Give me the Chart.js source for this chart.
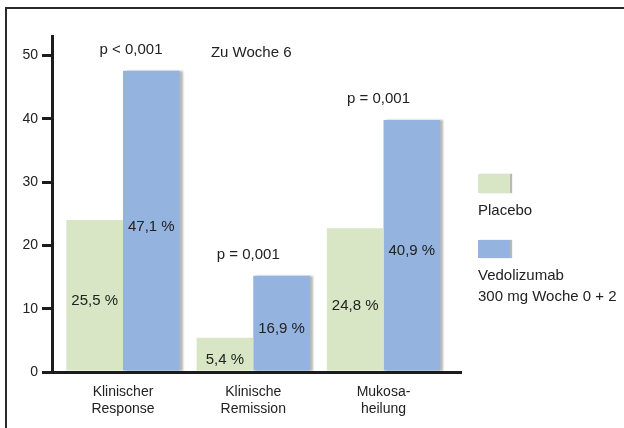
<!DOCTYPE html>
<html><head><meta charset="utf-8">
<script src="https://cdn.jsdelivr.net/npm/chart.js@4/dist/chart.umd.min.js"></script>
<style>html,body{margin:0;padding:0;background:#fff;overflow:hidden}#wrap{width:624px;height:428px}</style>
</head><body><div id="wrap"><canvas id="c" width="624" height="428"></canvas></div>
<script>
const categories = [['Klinischer', 'Response'], ['Klinische', 'Remission'], ['Mukosa-', 'heilung']];
const seriesNames = [['Placebo'], ['Vedolizumab', '300 mg Woche 0 + 2']];
const placebo = [24.0, 5.4, 22.7];
const vedolizumab = [47.6, 15.2, 39.8];
const placeboLabels = ['25,5 %', '5,4 %', '24,8 %'];
const vedolizumabLabels = ['47,1 %', '16,9 %', '40,9 %'];
const pValues = ['p < 0,001', 'p = 0,001', 'p = 0,001'];
const noteText = 'Zu Woche 6';
const yTicks = [0, 10, 20, 30, 40, 50];

const FONT = '"Liberation Sans", Arial, sans-serif';
const TEXT = '#222222';
const AXIS = '#1c1c1c';
const GREEN = '#d8e6c5';
const BLUE = '#95b3df';
const P_DX = [8, -5, -5];

const decorPlugin = {
  id: 'decor',
  beforeDraw(chart) {
    const c = chart.ctx;
    c.save();
    c.strokeStyle = '#2a2a2a';
    c.lineWidth = 2;
    c.beginPath();
    c.moveTo(6, 430);
    c.lineTo(6, 8);
    c.lineTo(630, 8);
    c.stroke();
    c.restore();
  },
  beforeDatasetDraw(chart, args) {
    if (args.index === 1) {
      const c = chart.ctx;
      c.save();
      c.shadowColor = 'rgba(0,0,0,0.28)';
      c.shadowOffsetX = 3;
      c.shadowOffsetY = 0;
      c.shadowBlur = 2;
    }
  },
  afterDatasetDraw(chart, args) {
    if (args.index === 1) chart.ctx.restore();
  },
  afterDraw(chart) {
    const c = chart.ctx;
    const xs = chart.scales.x, ys = chart.scales.y;
    c.save();
    c.fillStyle = TEXT;
    c.font = '15px ' + FONT;
    c.textAlign = 'center';
    c.textBaseline = 'middle';
    const m0 = chart.getDatasetMeta(0), m1 = chart.getDatasetMeta(1);
    m0.data.forEach((bar, i) => {
      c.fillText(placeboLabels[i], bar.x, (bar.y + bar.base) / 2 + 6);
    });
    m1.data.forEach((bar, i) => {
      c.fillText(vedolizumabLabels[i], bar.x, (bar.y + bar.base) / 2 + 6);
      const gx = (m0.data[i].x + bar.x) / 2;
      c.fillText(pValues[i], gx + P_DX[i], bar.y - 21);
    });
    c.fillText(noteText, xs.getPixelForValue(1) - 2, ys.getPixelForValue(50.4));
    // legend
    c.textAlign = 'left';
    const lx = 478;
    const items = [{ color: GREEN, top: 174, text: seriesNames[0] }, { color: BLUE, top: 240, text: seriesNames[1] }];
    items.forEach((it, n) => {
      c.save();
      c.shadowColor = 'rgba(0,0,0,0.28)';
      c.shadowOffsetX = 2;
      c.shadowBlur = 1;
      c.fillStyle = it.color;
      c.fillRect(lx, it.top, 32, n === 0 ? 19 : 18);
      c.restore();
      it.text.forEach((t, k) => {
        c.fillText(t, lx, it.top + (n === 0 ? 37 : 36) + k * 21);
      });
    });
    c.restore();
  }
};

new Chart(document.getElementById('c'), {
  type: 'bar',
  data: {
    datasets: [
      { label: seriesNames[0].join(' '), data: placebo.map((v, i) => ({ x: i, y: v })), backgroundColor: GREEN, borderWidth: 0, categoryPercentage: 0.87, barPercentage: 1 },
      { label: seriesNames[1].join(' '), data: vedolizumab.map((v, i) => ({ x: i, y: v })), backgroundColor: BLUE, borderWidth: 0, categoryPercentage: 0.87, barPercentage: 1 }
    ]
  },
  options: {
    responsive: false,
    animation: false,
    devicePixelRatio: 1,
    layout: { padding: { left: 0, top: 36.5, right: 163, bottom: 0 } },
    plugins: { legend: { display: false }, tooltip: { enabled: false } },
    scales: {
      x: {
        type: 'linear', min: -0.545, max: 2.595, offset: false, bounds: 'data',
        afterBuildTicks: s => { s.ticks = categories.map((c, i) => ({ value: i })); },
        afterFit: s => { s.height = 56; },
        grid: { display: false, drawTicks: false, offset: false },
        border: { display: true, color: AXIS, width: 3 },
        ticks: { callback: v => categories[v], font: { family: FONT, size: 14, lineHeight: 1.25 }, color: TEXT, padding: 11, maxRotation: 0, autoSkip: false }
      },
      y: {
        min: 0, max: 53,
        afterBuildTicks: s => { s.ticks = yTicks.map(v => ({ value: v })); },
        afterFit: s => { s.width = 52; },
        grid: { drawOnChartArea: false, drawTicks: true, tickLength: 10, tickWidth: 3, tickColor: AXIS, color: AXIS, lineWidth: 3 },
        border: { display: true, color: AXIS, width: 3 },
        ticks: { font: { family: FONT, size: 14 }, color: TEXT, padding: 4 }
      }
    }
  },
  plugins: [decorPlugin]
});
</script>
</body></html>
